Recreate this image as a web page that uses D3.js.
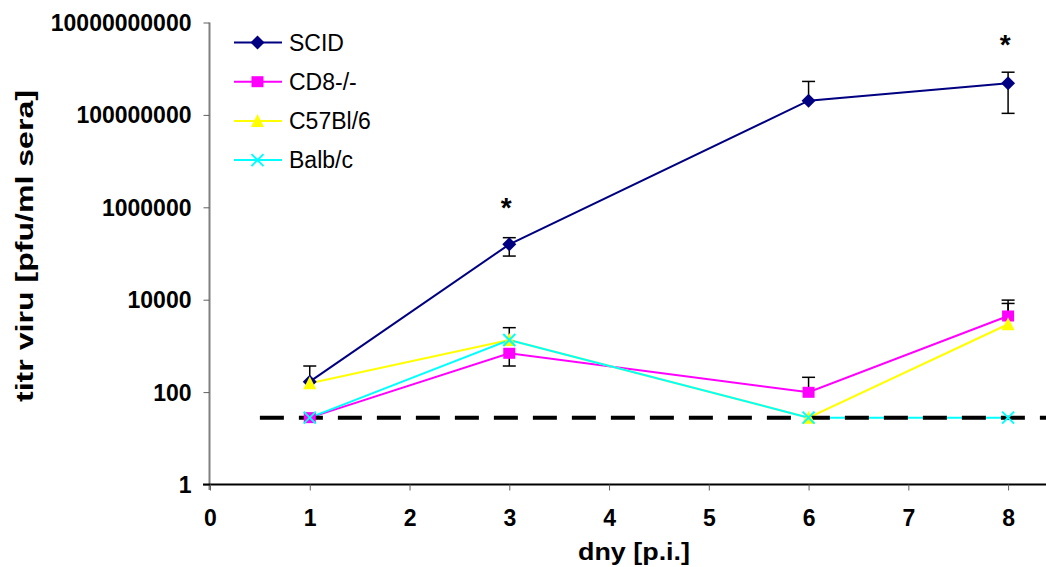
<!DOCTYPE html>
<html>
<head>
<meta charset="utf-8">
<script src="https://cdn.jsdelivr.net/npm/d3@7"></script>
<style>
  body { margin: 0; background: #fff; }
  text { font-family: "Liberation Sans", Arial, sans-serif; }
</style>
</head>
<body>
<div class="chart"></div>
<script>
// Chart data
var days = [1, 3, 6, 8];
var seriesNames = ["SCID", "CD8-/-", "C57Bl/6", "Balb/c"];
var seriesColors = ["#000080", "#ff00ff", "#ffff00", "#00ffff"];
var seriesMarkers = ["diamond", "square", "triangle", "cross"];

var scidValues = [168, 158000, 203000000, 483000000];
var cd8Values = [28, 692, 99, 4440];
var c57Values = [155, 1340, 28, 2940];
var balbValues = [28, 1340, 28, 28];

// error bars: high / low ends (null = none)
var scidHigh = [367, 220000, 530000000, 840000000];
var scidLow = [null, 88000, null, 108000000];
var cd8High = [null, null, 209, 9800];
var cd8Low = [null, 367, null, null];
var c57High = [null, 2480, null, 8300];
var c57Low = [null, null, null, null];
var balbHigh = [null, null, null, null];
var balbLow = [null, null, null, null];

var detectionLimit = 28;
var detectionStart = 0.5;
var starDays = [3, 8];
var starValues = [1000000, 3400000000];

var xTicks = [0, 1, 2, 3, 4, 5, 6, 7, 8];
var yTicks = [1, 100, 10000, 1000000, 100000000, 10000000000];

var allValues = [scidValues, cd8Values, c57Values, balbValues];
var allHigh = [scidHigh, cd8High, c57High, balbHigh];
var allLow = [scidLow, cd8Low, c57Low, balbLow];

var svgWidth = 1046;
var svgHeight = 567;

var svg = d3.select(".chart")
  .append("svg")
  .attr("width", svgWidth)
  .attr("height", svgHeight);

var xScale = d3.scaleLinear().domain([0, 8.38]).range([210, 1046]);
var yScale = d3.scaleLog().domain([1, 10000000000]).range([484.5, 22.5]);

// Y axis (gray)
var yAxisG = svg.append("g")
  .attr("transform", "translate(209.5,0)")
  .call(d3.axisLeft(yScale).tickValues(yTicks).tickFormat(d3.format("d")).tickSizeOuter(0).tickSize(6).tickPadding(12));
yAxisG.select(".domain").attr("stroke", "#808080").attr("stroke-width", 2)
  .attr("d", "M0," + 22.5 + "V" + 490);
yAxisG.selectAll(".tick line").attr("stroke", "#606060");
yAxisG.selectAll(".tick text")
  .attr("font-size", "23px").attr("font-weight", "bold").attr("fill", "#000")
  .attr("font-family", "'Liberation Sans', Arial, sans-serif")
  .attr("dy", "0.35em");

// X axis (black)
var xAxisG = svg.append("g")
  .attr("transform", "translate(0,484.5)")
  .call(d3.axisBottom(xScale).tickValues(xTicks).tickSizeOuter(0).tickSize(6).tickPadding(19));
xAxisG.select(".domain").attr("stroke", "#000").attr("stroke-width", 2)
  .attr("d", "M203,0H1046");
xAxisG.selectAll(".tick line").attr("stroke", "#606060");
xAxisG.selectAll(".tick text")
  .attr("font-size", "23px").attr("font-weight", "bold").attr("fill", "#000")
  .attr("font-family", "'Liberation Sans', Arial, sans-serif");

// Axis titles (stretched along their length like the original)
svg.append("text")
  .attr("transform", "translate(33,246) rotate(-90)")
  .attr("text-anchor", "middle")
  .attr("font-size", "23px")
  .attr("font-weight", "bold")
  .attr("textLength", 312)
  .attr("lengthAdjust", "spacingAndGlyphs")
  .text("titr viru [pfu/ml sera]");

svg.append("text")
  .attr("x", 634)
  .attr("y", 560)
  .attr("text-anchor", "middle")
  .attr("font-size", "23px")
  .attr("font-weight", "bold")
  .attr("textLength", 112)
  .attr("lengthAdjust", "spacingAndGlyphs")
  .text("dny [p.i.]");

// Series lines
var line = d3.line()
  .x(function (d, i) { return xScale(days[i]); })
  .y(function (d) { return yScale(d); });

allValues.forEach(function (vals, s) {
  svg.append("path")
    .datum(vals)
    .attr("fill", "none")
    .attr("stroke", seriesColors[s])
    .attr("stroke-width", 2)
    .attr("d", line);
});

// Detection limit (dashed)
svg.append("line")
  .attr("x1", xScale(detectionStart))
  .attr("x2", xScale(8.38))
  .attr("y1", yScale(detectionLimit))
  .attr("y2", yScale(detectionLimit))
  .attr("stroke", "#000")
  .attr("stroke-width", 4)
  .attr("stroke-dasharray", "24,15");

// Error bars
function drawErrorBar(day, from, to) {
  var x = xScale(day);
  svg.append("line")
    .attr("x1", x).attr("x2", x)
    .attr("y1", yScale(from)).attr("y2", yScale(to))
    .attr("stroke", "#000").attr("stroke-width", 1.5);
  svg.append("line")
    .attr("x1", x - 6.5).attr("x2", x + 6.5)
    .attr("y1", yScale(to)).attr("y2", yScale(to))
    .attr("stroke", "#000").attr("stroke-width", 1.5);
}

allValues.forEach(function (vals, s) {
  vals.forEach(function (v, i) {
    if (allHigh[s][i] !== null) drawErrorBar(days[i], v, allHigh[s][i]);
    if (allLow[s][i] !== null) drawErrorBar(days[i], v, allLow[s][i]);
  });
});

// Markers
function drawMarker(g, type, color, cx, cy) {
  if (type === "diamond") {
    g.append("path")
      .attr("d", "M" + cx + "," + (cy - 7) + "L" + (cx + 7) + "," + cy + "L" + cx + "," + (cy + 7) + "L" + (cx - 7) + "," + cy + "Z")
      .attr("fill", color);
  } else if (type === "square") {
    g.append("rect")
      .attr("x", cx - 6).attr("y", cy - 5.5)
      .attr("width", 12).attr("height", 11)
      .attr("fill", color);
  } else if (type === "triangle") {
    g.append("path")
      .attr("d", "M" + cx + "," + (cy - 7) + "L" + (cx + 6.5) + "," + (cy + 6) + "L" + (cx - 6.5) + "," + (cy + 6) + "Z")
      .attr("fill", color);
  } else {
    g.append("path")
      .attr("d", "M" + (cx - 6) + "," + (cy - 6) + "L" + (cx + 6) + "," + (cy + 6) + "M" + (cx + 6) + "," + (cy - 6) + "L" + (cx - 6) + "," + (cy + 6))
      .attr("stroke", color)
      .attr("stroke-width", 2)
      .attr("fill", "none");
  }
}

var markerG = svg.append("g");
allValues.forEach(function (vals, s) {
  vals.forEach(function (v, i) {
    drawMarker(markerG, seriesMarkers[s], seriesColors[s], xScale(days[i]), yScale(v));
  });
});

// Significance stars
starDays.forEach(function (d, i) {
  svg.append("text")
    .attr("x", xScale(d) - 3)
    .attr("y", yScale(starValues[i]) + 10)
    .attr("text-anchor", "middle")
    .attr("font-size", "28px")
    .attr("font-weight", "bold")
    .text("*");
});

// Legend
var legend = svg.append("g");
seriesNames.forEach(function (name, s) {
  var ly = 42.5 + s * 39.2;
  legend.append("line")
    .attr("x1", 234).attr("x2", 282)
    .attr("y1", ly).attr("y2", ly)
    .attr("stroke", seriesColors[s])
    .attr("stroke-width", 2);
  drawMarker(legend, seriesMarkers[s], seriesColors[s], 257.5, ly);
  legend.append("text")
    .attr("x", 289)
    .attr("y", ly)
    .attr("dy", "0.35em")
    .attr("font-size", "23px")
    .text(name);
});
</script>
</body>
</html>
